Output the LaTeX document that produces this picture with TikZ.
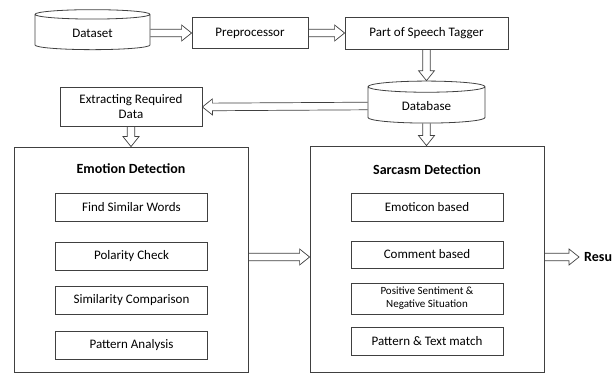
\documentclass[tikz,border=0pt]{standalone}
\usepackage{fontspec}
\setmainfont{Carlito}
\usetikzlibrary{shapes.geometric,calc}

% outlined block arrow from #1 to #2
\newcommand{\fatarrow}[2]{%
  \path (#1) coordinate (fa-s) (#2) coordinate (fa-e)
    ($(fa-e)!10pt!(fa-s)$) coordinate (fa-m);
  \draw [arrowline] ($(fa-s)!3.8pt!90:(fa-e)$) -- ($(fa-m)!3.8pt!90:(fa-e)$)
    -- ($(fa-m)!8pt!90:(fa-e)$) -- (fa-e) -- ($(fa-m)!8pt!-90:(fa-e)$)
    -- ($(fa-m)!3.8pt!-90:(fa-e)$) -- ($(fa-s)!3.8pt!-90:(fa-e)$);}

\begin{document}
\begin{tikzpicture}[x=1pt,y=-1pt,
  box/.style={draw=black!75, line width=0.8pt, font=\fontsize{13}{15}\selectfont,
    minimum width=152pt, minimum height=28pt, inner sep=1pt},
  store/.style={draw=black!75, line width=0.8pt, font=\fontsize{13}{15}\selectfont,
    cylinder, shape border rotate=90, aspect=0.2},
  panel/.style={draw=black!75, line width=0.8pt, minimum width=234pt},
  title/.style={font=\fontsize{14}{16}\selectfont\bfseries},
  arrowline/.style={draw=black!75, line width=0.7pt, line join=miter}]

  \useasboundingbox (0,0) rectangle (616,374);

  % top row
  \node [store, minimum width=115pt, minimum height=40pt] (dataset) at (92.5,33) {Dataset};
  \node [box, minimum width=116pt, minimum height=31pt] (prep) at (250,33) {Preprocessor};
  \node [box, minimum width=163pt, minimum height=32pt] (tagger) at (426.5,33) {Part of Speech Tagger};

  % second row
  \node [store, minimum width=117pt, minimum height=42pt] (db) at (426.5,106) {Database};
  \node [box, minimum width=142pt, minimum height=39pt, align=center] (extract) at (131,107)
    {Extracting Required\\Data};

  % detection panels
  \node [panel, minimum height=225pt] (emotion) at (131,259.5) {};
  \node [panel, minimum height=226pt] (sarcasm) at (427,259) {};

  \node [title] (etitle) at (131,169) {Emotion Detection};
  \node [box] (similar) at (131.5,207) {Find Similar Words};
  \node [box] (polarity) at (131.5,256) {Polarity Check};
  \node [box] (compare) at (131.5,300.5) {Similarity Comparison};
  \node [box] (pattern) at (131.5,345.5) {Pattern Analysis};

  \node [title] (stitle) at (427,170) {Sarcasm Detection};
  \node [box] (emoticon) at (427,207) {Emoticon based};
  \node [box, minimum height=27pt] (comment) at (427,254.5) {Comment based};
  \node [box, minimum height=31pt, align=center, font=\fontsize{11}{13}\selectfont] (situation) at (427,298.5)
    {Positive Sentiment \&\\Negative Situation};
  \node [box] (match) at (427,341) {Pattern \& Text match};

  \node [title, anchor=west, inner sep=0pt] (result) at (584,257) {Resu};

  % flow
  \fatarrow{dataset.east}{prep.west}
  \fatarrow{prep.east}{tagger.west}
  \fatarrow{tagger.south}{db.north}
  \fatarrow{db.west}{extract.east}
  \fatarrow{extract.south}{extract.south |- emotion.north}
  \fatarrow{db.south}{db.south |- sarcasm.north}
  \fatarrow{emotion.east |- 0,257}{sarcasm.west |- 0,257}
  \fatarrow{sarcasm.east |- result.west}{[xshift=-5pt]result.west}
\end{tikzpicture}
\end{document}
